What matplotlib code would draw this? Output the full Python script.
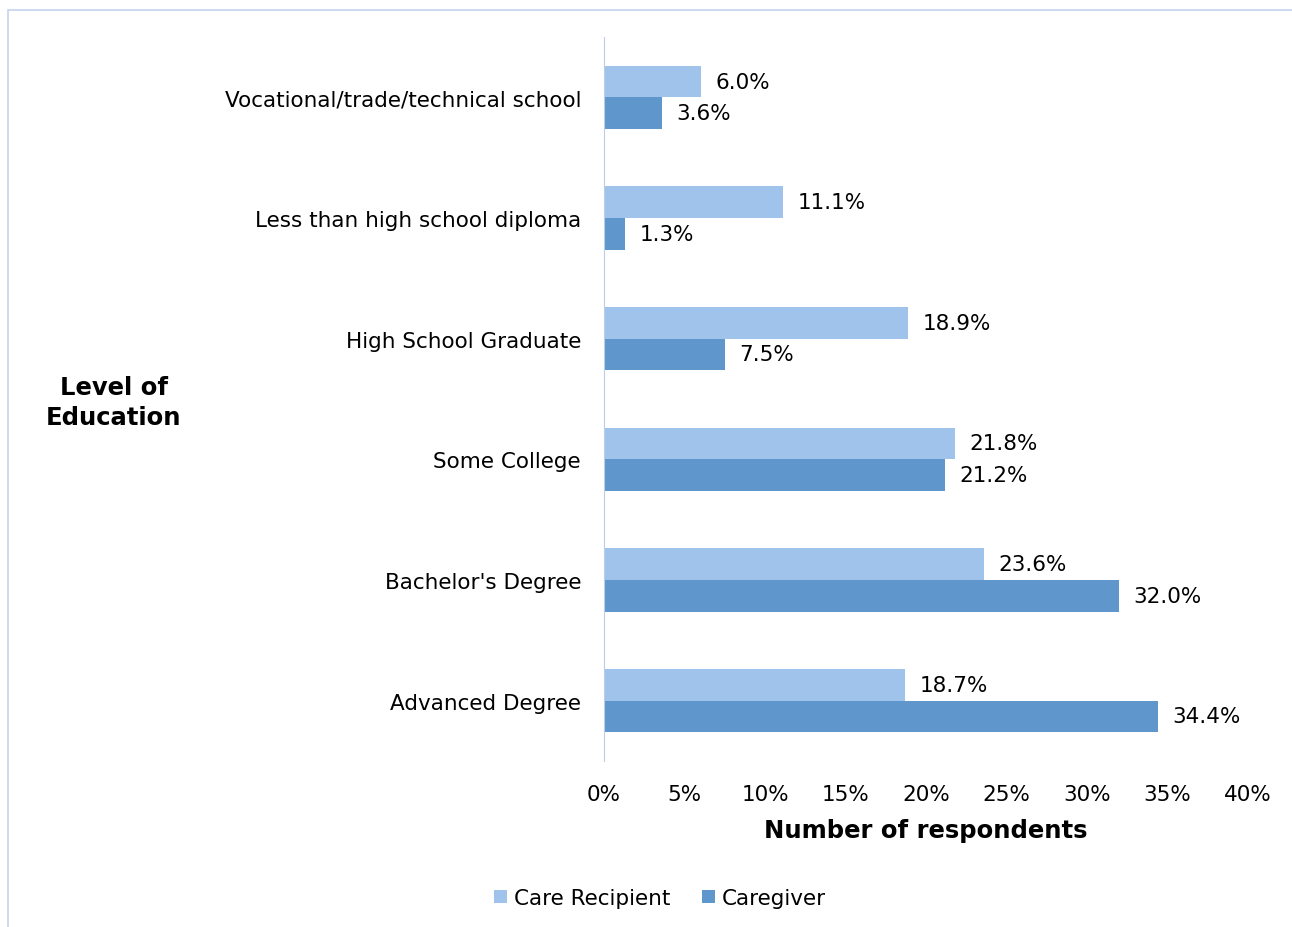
import numpy as np
import matplotlib.pyplot as plt
from matplotlib.patches import Rectangle

categories = ['Vocational/trade/technical school', 'Less than high school diploma',
              'High School Graduate', 'Some College', "Bachelor's Degree", 'Advanced Degree']
care_recipient = [6.0, 11.1, 18.9, 21.8, 23.6, 18.7]
caregiver = [3.6, 1.3, 7.5, 21.2, 32.0, 34.4]
xticks = [0, 5, 10, 15, 20, 25, 30, 35, 40]

light = '#9fc3ea'
dark = '#5f97cd'

plt.rcParams['font.family'] = 'DejaVu Sans'
fig = plt.figure(figsize=(12.92, 9.28), dpi=100)
ax = fig.add_axes([0.4675, 0.179, 0.4985, 0.78])

y = np.arange(len(categories))
h = 0.262
ax.barh(y - h/2, care_recipient, height=h, color=light, label='Care Recipient')
ax.barh(y + h/2, caregiver, height=h, color=dark, label='Caregiver')

fs = 15.5
for yi, v in zip(y, care_recipient):
    ax.text(v + 0.9, yi - h/2, f'{v:.1f}%', va='center', ha='left', fontsize=fs)
for yi, v in zip(y, caregiver):
    ax.text(v + 0.9, yi + h/2, f'{v:.1f}%', va='center', ha='left', fontsize=fs)

ax.set_ylim(len(categories) - 0.5, -0.5)
ax.set_xlim(0, 40)
ax.set_yticks(y)
ax.set_yticklabels(categories, fontsize=fs)
ax.set_xticks(xticks)
ax.set_xticklabels([f'{t}%' for t in xticks], fontsize=fs)
ax.tick_params(length=0)
ax.tick_params(axis='y', pad=16.5)
ax.tick_params(axis='x', pad=17)
for s in ['top', 'right', 'bottom']:
    ax.spines[s].set_visible(False)
ax.spines['left'].set_color('#bccde6')

ax.set_xlabel('Number of respondents', fontsize=17.5, fontweight='bold', labelpad=10)
fig.text(0.088, 0.566, 'Level of\nEducation', ha='center', va='center',
         fontsize=17.5, fontweight='bold', linespacing=1.3)

leg = fig.legend(loc='center', bbox_to_anchor=(0.511, 0.031), ncol=2, frameon=False,
                 fontsize=fs, handlelength=0.6, handleheight=0.6, handletextpad=0.3,
                 columnspacing=1.5)

# light frame around the chart area
fig.patches.append(Rectangle((8/1292, -0.1), 1.2, 1.1 - 11/928, transform=fig.transFigure,
                             fill=False, edgecolor='#c5d3f0', linewidth=1.2))

fig.savefig('out.png', dpi=100)
